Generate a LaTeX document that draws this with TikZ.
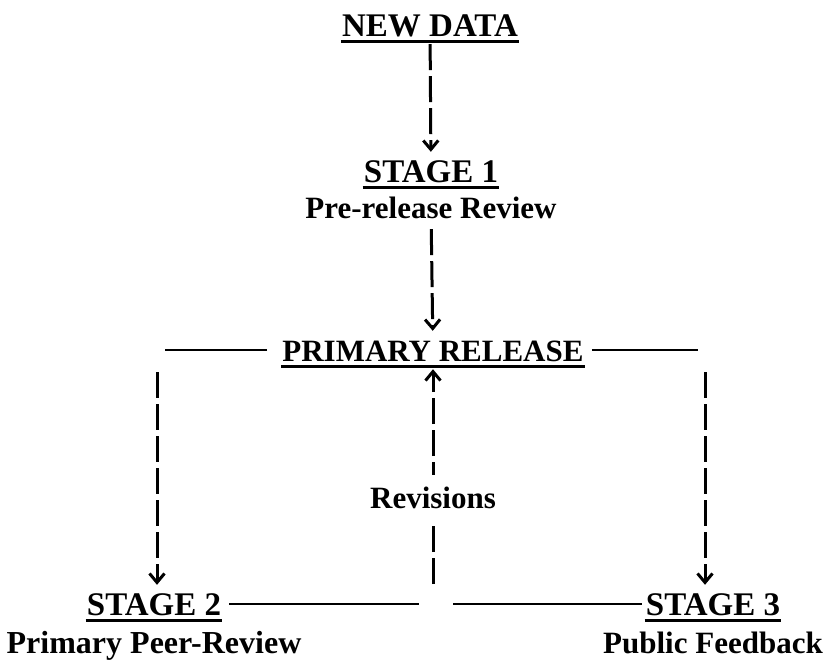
\documentclass[tikz,border=0pt]{standalone}
\usepackage{fontspec}
\setmainfont{Liberation Serif}
\usetikzlibrary{arrows.meta,positioning}

\begin{document}
\begin{tikzpicture}[x=1pt,y=-1pt,>={Straight Barb[length=9pt,width=15pt]},
    every node/.style={font=\fontsize{31}{36}\selectfont\bfseries},
    head/.style={font=\fontsize{33}{38}\selectfont\bfseries,inner xsep=1pt,inner ysep=8pt,
        text height=22pt,text depth=0pt,anchor=base},
    sub/.style={inner sep=4pt,text height=22pt,text depth=7pt,anchor=base},
    flow/.style={->,line width=3pt,dash pattern=on 26pt off 6pt},
    link/.style={line width=2.5pt},
    uline/.style={line width=3pt}]
    \useasboundingbox (0,0) rectangle (827,662);

    \node[head] (data)    at (430,36)  {NEW DATA};
    \node[head] (s1)      at (431,182) {STAGE 1};
    \node[sub]  (s1sub)   at ([yshift=-36pt]s1.base) {Pre-release Review};
    \node[head,font=\fontsize{31}{36}\selectfont\bfseries]
                (release) at (433,361) {PRIMARY RELEASE};
    \node[head] (s2)      at (154,615) {STAGE 2};
    \node[sub,font=\fontsize{32}{36}\selectfont\bfseries]
                (s2sub)   at ([yshift=-38pt]s2.base) {Primary Peer-Review};
    \node[head] (s3)      at (713,615) {STAGE 3};
    \node[sub]  (s3sub)   at ([yshift=-38pt]s3.base) {Public Feedback};

    % loose ends of the lines
    \coordinate (rl)  at (165,350);
    \coordinate (rr)  at (698,350);
    \coordinate (bl)  at (419,604);
    \coordinate (br)  at (453,604);
    \coordinate (l2)  at (157,372);
    \coordinate (r3)  at (705,372);
    \coordinate (rev) at (433,584);

    % underlines
    \foreach \n in {data,s1,release,s2,s3}
        \draw[uline] ([yshift=-5pt]\n.base west) -- ([yshift=-5pt]\n.base east);

    \draw[flow] (data) -- (s1);
    \draw[flow] (s1sub) -- (release);
    \draw[flow] (l2) -- (l2 |- s2.north);
    \draw[flow] (r3) -- (r3 |- s3.north);
    \draw[flow] (rev) -- node[pos=0.4,fill=white,inner xsep=3pt,inner ysep=12pt] {Revisions} (release);

    \draw[link,shorten <=14pt] (release.west) -- (rl);
    \draw[link,shorten <=7pt]  (release.east) -- (rr);
    \draw[link,shorten <=7pt]  (s2.east) -- (bl);
    \draw[link,shorten <=3pt]  (s3.west) -- (br);
\end{tikzpicture}
\end{document}
